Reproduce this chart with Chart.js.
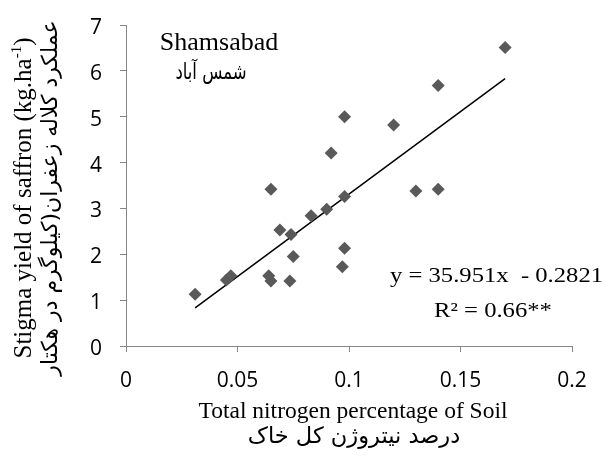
<!DOCTYPE html>
<html><head><meta charset="utf-8">
<script src="https://cdn.jsdelivr.net/npm/chart.js@4.4.1/dist/chart.umd.min.js"></script>
<style>html,body{margin:0;padding:0;background:#fff}#wrap{width:606px;height:463px}</style>
</head><body><div id="wrap"><canvas id="c" width="606" height="463"></canvas></div>
<script>
const nitrogen = [0.031,0.045,0.047,0.064,0.065,0.065,0.069,0.0735,0.074,0.075,0.083,0.090,0.092,0.098,0.098,0.098,0.097,0.120,0.130,0.140,0.140,0.170];
const yieldVals = [1.13,1.44,1.53,1.53,1.42,3.42,2.53,1.42,2.43,1.95,2.84,2.98,4.21,5.00,3.26,2.13,1.73,4.82,3.38,3.42,5.68,6.51];
const trendSlope = 35.951, trendIntercept = -0.2821;
const xTicks = [0,0.05,0.1,0.15,0.2];
const yTicks = [0,1,2,3,4,5,6,7];

const pts = nitrogen.map((x,i)=>({x:x,y:yieldVals[i]}));
const xmin = Math.min(...nitrogen), xmax = Math.max(...nitrogen);
const trend = [{x:xmin,y:trendSlope*xmin+trendIntercept},{x:xmax,y:trendSlope*xmax+trendIntercept}];

const serif = '"Liberation Serif","Times New Roman",serif';
const arab = '"DejaVu Sans"';
function stretched(ctx, txt, x, y, sx, align){
  ctx.save();
  ctx.translate(x, y);
  ctx.scale(sx, 1);
  ctx.textAlign = align;
  ctx.fillText(txt, 0, 0);
  ctx.restore();
}
const textPlugin = {
  id:'texts',
  afterDraw(chart){
    const ctx = chart.ctx;
    ctx.save();
    ctx.fillStyle = '#000';
    ctx.textBaseline = 'alphabetic';
    ctx.textAlign = 'center';
    ctx.font = '26px '+serif;
    ctx.fillText('Shamsabad', 219, 50);
    ctx.font = '22px '+arab;
    stretched(ctx, 'شمس آباد', 211, 79, 0.75, 'center');
    ctx.font = '22px '+serif;
    stretched(ctx, 'y = 35.951x  - 0.2821', 390, 282, 1.12, 'left');
    stretched(ctx, 'R² = 0.66**', 493, 317, 1.12, 'center');
    // x axis titles
    ctx.font = '23.5px '+serif;
    ctx.fillText('Total nitrogen percentage of Soil', 353, 418);
    ctx.font = '22.5px '+arab;
    ctx.fillText('درصد نیتروژن کل خاک', 354, 443);
    // y axis titles
    ctx.save();
    ctx.rotate(-Math.PI/2);
    ctx.font = '25px '+serif;
    const main = 'Stigma yield of saffron (kg.ha';
    const w = ctx.measureText(main).width;
    ctx.font = '15px '+serif;
    const w2 = ctx.measureText('-1').width;
    ctx.font = '25px '+serif;
    const w3 = ctx.measureText(')').width;
    const total = w + w2 + w3;
    const start = -198 - total/2;
    ctx.textAlign = 'left';
    ctx.fillText(main, start, 31);
    ctx.font = '15px '+serif;
    ctx.fillText('-1', start + w, 21);
    ctx.font = '25px '+serif;
    ctx.fillText(')', start + w + w2, 31);
    ctx.textAlign = 'center';
    ctx.font = '22px '+arab;
    ctx.fillText('عملکرد کلاله زعفران(کیلوگرم در هکتار', -198, 57);
    ctx.restore();
    ctx.restore();
  }
};

new Chart(document.getElementById('c'), {
  type:'scatter',
  data:{datasets:[
    {data:pts, pointStyle:'rectRot', pointRadius:6.5, pointHoverRadius:6.5, backgroundColor:'#595959', borderColor:'#595959', borderWidth:0, showLine:false, order:1},
    {data:trend, showLine:true, pointRadius:0, borderColor:'#000', borderWidth:1.5, fill:false, order:2}
  ]},
  options:{
    responsive:false, animation:false, devicePixelRatio:1,
    layout:{padding:{top:25,right:34,left:0,bottom:0}},
    plugins:{legend:{display:false}, tooltip:{enabled:false}},
    scales:{
      x:{type:'linear', min:0, max:0.2,
        afterBuildTicks(s){s.ticks = xTicks.map(v=>({value:v}));},
        afterFit(s){s.height = 463-346; s.paddingLeft = 0; s.paddingRight = 0;},
        grid:{drawOnChartArea:false, drawTicks:true, tickLength:6, color:'#868686', lineWidth:1},
        border:{color:'#868686', width:1},
        ticks:{color:'#000', padding:16, maxRotation:0, font:{family:'"Open Sans"', size:21}, callback:v=>String(v)}
      },
      y:{type:'linear', min:0, max:7,
        afterBuildTicks(s){s.ticks = yTicks.map(v=>({value:v}));},
        afterFit(s){s.width = 126; s.paddingTop = 0; s.paddingBottom = 0;},
        grid:{drawOnChartArea:false, drawTicks:true, tickLength:6, color:'#868686', lineWidth:1},
        border:{color:'#868686', width:1},
        ticks:{color:'#000', padding:18, labelOffset:3, font:{family:'"Open Sans"', size:21}, callback:v=>String(v)}
      }
    }
  },
  plugins:[textPlugin]
});
</script></body></html>
